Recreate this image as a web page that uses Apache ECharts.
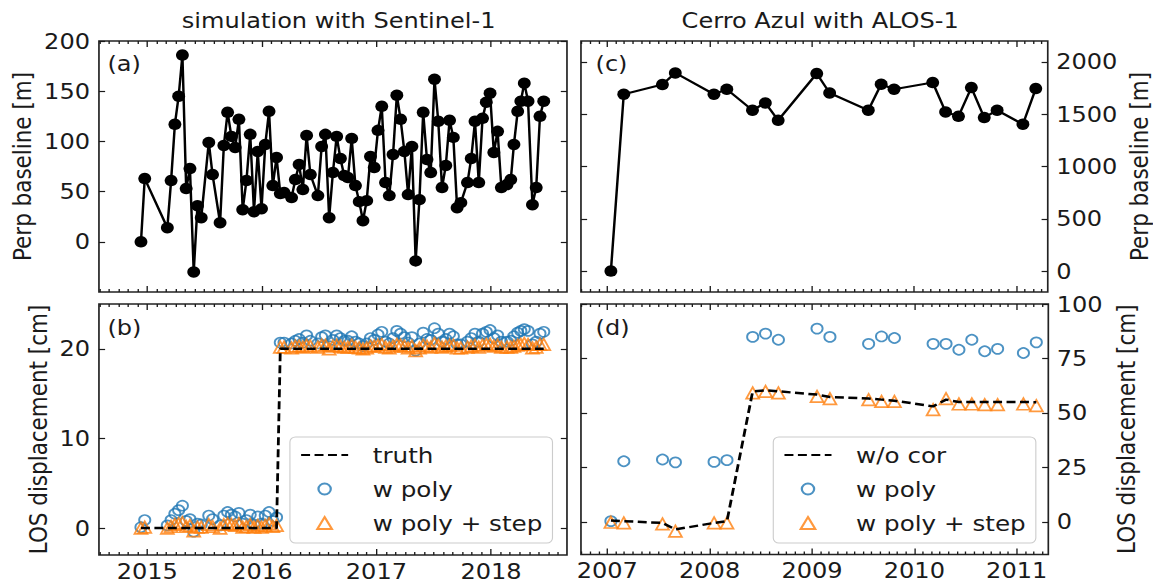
<!DOCTYPE html>
<html>
<head>
<meta charset="utf-8">
<script src="https://cdn.jsdelivr.net/npm/echarts@6/dist/echarts.min.js"></script>
<style>
  html, body { margin: 0; padding: 0; background: #fff; overflow: hidden; }
  /* the figure is laid out at 1030 px and widened to 1153 px */
  #chart { width: 1030px; height: 584px; transform: scaleX(1.1194); transform-origin: 0 0; }
</style>
</head>
<body>
<div id="chart"></div>
<script>
// ---- Sentinel-1 simulation ----
const s1Dates = [
  '2014-12-12','2014-12-24','2015-03-06','2015-03-18','2015-03-30','2015-04-11','2015-04-23','2015-05-05','2015-05-17','2015-05-29',
  '2015-06-10','2015-06-22','2015-07-16','2015-07-28','2015-08-21','2015-09-02','2015-09-14','2015-09-26','2015-10-08','2015-10-20',
  '2015-11-01','2015-11-13','2015-11-25','2015-12-07','2015-12-19','2015-12-31','2016-01-12','2016-01-24','2016-02-05','2016-02-17',
  '2016-02-29','2016-03-12','2016-04-05','2016-04-17','2016-04-29','2016-05-11','2016-05-23','2016-06-04','2016-06-28','2016-07-10',
  '2016-07-22','2016-08-03','2016-08-15','2016-08-27','2016-09-08','2016-09-20','2016-10-02','2016-10-14','2016-10-26','2016-11-07',
  '2016-11-19','2016-12-01','2016-12-13','2016-12-25','2017-01-06','2017-01-18','2017-01-30','2017-02-11','2017-02-23','2017-03-07',
  '2017-03-19','2017-03-31','2017-04-12','2017-04-24','2017-05-06','2017-05-18','2017-05-30','2017-06-11','2017-06-23','2017-07-05',
  '2017-07-17','2017-07-29','2017-08-10','2017-08-22','2017-09-03','2017-09-15','2017-09-27','2017-10-18','2017-10-30','2017-11-11',
  '2017-11-23','2017-12-05','2017-12-17','2017-12-29','2018-01-10','2018-01-22','2018-02-03','2018-02-21','2018-03-05','2018-03-15',
  '2018-03-27','2018-04-06','2018-04-17','2018-04-29','2018-05-13','2018-05-25','2018-06-06','2018-06-18'
];
const s1Baseline = [
  0, 63, 14, 61, 117, 145, 186, 53, 73, -30,
  36, 24, 99, 67, 19, 96, 129, 105, 94, 122,
  32, 61, 107, 30, 90, 33, 97, 130, 56, 84,
  48, 49, 44, 62, 77, 52, 106, 67, 46, 95,
  107, 24, 69, 105, 83, 66, 64, 103, 56, 40,
  21, 41, 85, 74, 111, 135, 59, 46, 87, 146,
  122, 90, 47, 95, -19, 42, 129, 82, 69, 162,
  120, 54, 76, 121, 104, 34, 39, 59, 83, 120,
  59, 123, 139, 148, 89, 110, 54, 57, 62, 97,
  130, 140, 158, 140, 37, 54, 125, 140
];
const s1Poly = [
  0.1, 0.9, 0.3, 0.9, 1.6, 2.0, 2.5, 0.8, 1.0, -0.4,
  0.5, 0.4, 1.4, 1.0, 0.3, 1.4, 1.8, 1.5, 1.3, 1.7,
  0.5, 0.9, 1.5, 0.4, 1.3, 0.5, 1.4, 1.8, 0.8, 1.2,
  20.7, 20.7, 20.6, 20.9, 21.1, 20.7, 21.5, 20.9, 20.6, 21.3,
  21.5, 20.3, 21.0, 21.5, 21.2, 20.9, 20.9, 21.4, 20.8, 20.6,
  20.3, 20.6, 21.2, 21.0, 21.6, 21.9, 20.8, 20.6, 21.2, 22.0,
  21.7, 21.3, 20.7, 21.3, 19.8, 20.6, 21.8, 21.1, 21.0, 22.3,
  21.7, 20.8, 21.1, 21.7, 21.4, 20.5, 20.5, 20.8, 21.2, 21.7,
  20.8, 21.7, 21.9, 22.1, 21.2, 21.5, 20.8, 20.8, 20.9, 21.4,
  21.8, 22.0, 22.2, 22.0, 20.5, 20.8, 21.7, 21.9
];
const s1PolyStep = [
  0.0, 0.1, 0.0, 0.2, 0.4, 0.5, 0.6, 0.2, 0.3, -0.3,
  0.1, 0.1, 0.4, 0.2, 0.0, 0.4, 0.5, 0.4, 0.3, 0.5,
  0.1, 0.2, 0.4, 0.1, 0.3, 0.1, 0.3, 0.5, 0.2, 0.3,
  20.2, 20.2, 20.1, 20.3, 20.3, 20.2, 20.4, 20.3, 20.2, 20.4,
  20.4, 20.0, 20.3, 20.4, 20.3, 20.2, 20.2, 20.4, 20.2, 20.1,
  20.0, 20.1, 20.3, 20.3, 20.4, 20.5, 20.2, 20.1, 20.3, 20.5,
  20.4, 20.3, 20.1, 20.3, 19.8, 20.1, 20.4, 20.3, 20.2, 20.6,
  20.4, 20.2, 20.3, 20.4, 20.4, 20.1, 20.1, 20.2, 20.3, 20.4,
  20.2, 20.4, 20.5, 20.5, 20.3, 20.4, 20.2, 20.2, 20.2, 20.3,
  20.4, 20.5, 20.6, 20.5, 20.1, 20.2, 20.5, 20.5
];
// true displacement: a 20 cm step in early 2016
const s1TruthDates = ['2014-12-12', '2016-02-17', '2016-02-29', '2018-06-18'];
const s1TruthValues = [0, 0, 20, 20];

// ---- ALOS-1 over Cerro Azul ----
const alosDates = [
  '2007-01-14','2007-03-01','2007-07-17','2007-09-01','2008-01-17','2008-03-03','2008-06-03','2008-07-19',
  '2008-09-03','2009-01-19','2009-03-06','2009-07-22','2009-09-06','2009-10-22','2010-03-09','2010-04-24',
  '2010-06-09','2010-07-25','2010-09-09','2010-10-25','2011-01-25','2011-03-12'
];
const alosBaseline = [0, 1691, 1784, 1895, 1691, 1739, 1538, 1608, 1442, 1889, 1703, 1538, 1787, 1739, 1803, 1522, 1480, 1755, 1468, 1538, 1404, 1745];
const alosNoCor = [0.6, 0.3, -0.5, -3.5, -0.5, 0.3, 59.9, 60.4, 59.9, 58.4, 57.3, 56.6, 56.1, 55.6, 53.0, 56.1, 55.0, 55.0, 55.0, 55.0, 55.0, 54.9];
const alosPoly = [0.3, 27.8, 28.6, 27.3, 27.5, 28.3, 84.9, 86.4, 83.6, 88.7, 84.9, 81.7, 85.1, 84.4, 81.7, 81.7, 79.0, 83.6, 78.3, 79.4, 77.5, 82.4];
const alosPolyStep = [-0.2, -0.5, -0.9, -4.3, -0.5, -0.5, 59.2, 59.9, 59.2, 57.6, 56.6, 56.1, 55.3, 55.3, 51.5, 56.6, 54.1, 54.1, 53.8, 53.8, 54.1, 53.3];

// ---- tick labels ----
const s1YearTicks = [2015, 2016, 2017, 2018];
const alosYearTicks = [2007, 2008, 2009, 2010, 2011];
const s1BaselineTicks = [0, 50, 100, 150, 200];
const s1LosTicks = [0, 10, 20];
const alosBaselineTicks = [0, 500, 1000, 1500, 2000];
const alosLosTicks = [0, 25, 50, 75, 100];

const FONT = "'DejaVu Sans', sans-serif";
const INK = '#1a1a1a';
const BLUE = '#1f77b4';
const ORANGE = '#ff7f0e';

// date string -> decimal year
function toYear(s) {
  const [y, m, d] = s.split('-').map(Number);
  const t0 = Date.UTC(y, 0, 1), t1 = Date.UTC(y + 1, 0, 1);
  return y + (Date.UTC(y, m - 1, d) - t0) / (t1 - t0);
}
function pairs(dates, values) {
  return dates.map((d, i) => [toYear(d), values[i]]);
}
function monthTicks(min, max) {
  const out = [];
  for (let y = Math.floor(min); y <= Math.ceil(max); y++) {
    for (let m = 1; m < 12; m++) {
      const v = y + m / 12;
      if (v > min && v < max) out.push(v);
    }
  }
  return out;
}

const S1_MIN = 2014.5785, S1_MAX = 2018.663;
const AL_MIN = 2006.743, AL_MAX = 2011.309;

// four x axes per panel: major/minor ticks on bottom and top, all pointing inward
function xAxesFor(gridIndex, min, max, years, showLabels) {
  const months = monthTicks(min, max);
  const base = {
    type: 'value', gridIndex, min, max,
    axisLine: { show: false, onZero: false }, splitLine: { show: false }
  };
  const tickStyle = { color: INK, width: 1.2 };
  const major = (position, labels) => Object.assign({}, base, {
    position,
    axisTick: { show: true, inside: true, length: 6, customValues: years, lineStyle: tickStyle },
    axisLabel: {
      show: labels, customValues: years, margin: 5,
      fontSize: 21.5, fontFamily: FONT, color: INK,
      formatter: v => String(Math.round(v))
    }
  });
  const minor = position => Object.assign({}, base, {
    position,
    axisTick: { show: true, inside: true, length: 3, customValues: months, lineStyle: tickStyle },
    axisLabel: { show: false }
  });
  return [major('bottom', showLabels), minor('bottom'), major('top', false), minor('top')];
}

// left and right y axes per panel
function yAxesFor(gridIndex, min, max, ticks, side, name, nameGap, labelMargin) {
  const mk = position => {
    const active = position === side;
    return {
      type: 'value', gridIndex, min, max, position,
      axisLine: { show: false, onZero: false }, splitLine: { show: false },
      axisTick: { show: true, inside: true, length: 5.5, customValues: ticks, lineStyle: { color: INK, width: 1.2 } },
      axisLabel: {
        show: active, customValues: ticks, margin: labelMargin,
        fontSize: 21.5, fontFamily: FONT, color: INK,
        formatter: v => String(Math.round(v))
      },
      name: active ? name : '',
      nameLocation: 'middle', nameRotate: 90, nameGap,
      nameTextStyle: { fontSize: 21.5, fontFamily: FONT, color: INK }
    };
  };
  return [mk('left'), mk('right')];
}

const gridStyle = { show: true, borderColor: '#222', borderWidth: 1.5, backgroundColor: 'transparent' };
const grids = [
  Object.assign({ left: 88.4, top: 41, width: 418.1, height: 251 }, gridStyle),
  Object.assign({ left: 88.4, top: 304, width: 418.1, height: 251 }, gridStyle),
  Object.assign({ left: 519, top: 41, width: 417.5, height: 251 }, gridStyle),
  Object.assign({ left: 519, top: 304, width: 417.5, height: 250.5 }, gridStyle)
];

const xAxes = [].concat(
  xAxesFor(0, S1_MIN, S1_MAX, s1YearTicks, false),
  xAxesFor(1, S1_MIN, S1_MAX, s1YearTicks, true),
  xAxesFor(2, AL_MIN, AL_MAX, alosYearTicks, false),
  xAxesFor(3, AL_MIN, AL_MAX, alosYearTicks, true)
);
const yAxes = [].concat(
  yAxesFor(0, -50, 200, s1BaselineTicks, 'left', 'Perp baseline [m]', 57, 8),
  yAxesFor(1, -3, 25, s1LosTicks, 'left', 'LOS displacement [cm]', 43, 8),
  yAxesFor(2, -200, 2200, alosBaselineTicks, 'right', 'Perp baseline [m]', 71, 7.5),
  yAxesFor(3, -15, 100, alosLosTicks, 'right', 'LOS displacement [cm]', 59, 7.5)
);

const baselineLine = (name, data, xi, yi) => ({
  name, type: 'line', xAxisIndex: xi, yAxisIndex: yi, data,
  symbol: 'circle', symbolSize: 11.5,
  itemStyle: { color: '#000' },
  lineStyle: { color: '#000', width: 2.2 },
  emphasis: { disabled: true }
});
const dashedLine = (name, data, xi, yi) => ({
  name, type: 'line', xAxisIndex: xi, yAxisIndex: yi, data,
  symbol: 'none',
  itemStyle: { color: '#000' },
  lineStyle: { color: '#000', width: 2.5, type: [8, 4] },
  emphasis: { disabled: true }
});
const hollow = (name, data, xi, yi, symbol, color, size) => ({
  name, type: 'scatter', xAxisIndex: xi, yAxisIndex: yi, data,
  symbol, symbolSize: size,
  itemStyle: { color: 'rgba(0,0,0,0)', borderColor: color, borderWidth: 1.7 },
  emphasis: { disabled: true }
});

const series = [
  baselineLine('baseline S1', pairs(s1Dates, s1Baseline), 0, 0),
  dashedLine('truth', pairs(s1TruthDates, s1TruthValues), 4, 2),
  hollow('w poly', pairs(s1Dates, s1Poly), 4, 2, 'circle', BLUE, 10),
  hollow('w poly + step', pairs(s1Dates, s1PolyStep), 4, 2, 'triangle', ORANGE, 11.5),
  baselineLine('baseline ALOS', pairs(alosDates, alosBaseline), 8, 5),
  dashedLine('w/o cor', pairs(alosDates, alosNoCor), 12, 7),
  hollow('w poly', pairs(alosDates, alosPoly), 12, 7, 'circle', BLUE, 10),
  hollow('w poly + step', pairs(alosDates, alosPolyStep), 12, 7, 'triangle', ORANGE, 11.5)
];

// legend keys: dashed line sample alone, marker keys kept at marker size inside the key box
const ICON_CIRCLE = 'path://M0,0 M42,13 M26.5,6.5 A5.5,5.5 0 1 1 15.5,6.5 A5.5,5.5 0 1 1 26.5,6.5 Z';
const ICON_TRIANGLE = 'path://M0,0 M42,13 M21,0.5 L27.5,12.5 L14.5,12.5 Z';
const legendBase = {
  orient: 'vertical', itemWidth: 42, itemHeight: 13, itemGap: 10,
  padding: [6, 9, 8, 9], selectedMode: false,
  backgroundColor: 'rgba(255,255,255,0.8)', borderColor: '#cccccc', borderWidth: 1, borderRadius: 5,
  textStyle: { fontSize: 22, fontFamily: FONT, color: INK, lineHeight: 24, padding: [0, 0, 0, 17] }
};
const legendItems = lineName => [
  { name: lineName, itemStyle: { opacity: 0 } },
  { name: 'w poly', icon: ICON_CIRCLE },
  { name: 'w poly + step', icon: ICON_TRIANGLE }
];
const legends = [
  Object.assign({ data: legendItems('truth'), left: 259, top: 437 }, legendBase),
  Object.assign({ data: legendItems('w/o cor'), left: 690.8, top: 437 }, legendBase)
];

const panelTag = (text, left, top) => ({
  type: 'text', left, top,
  style: { text, fontSize: 21.5, fontFamily: FONT, fill: INK }
});

const chart = echarts.init(document.getElementById('chart'), null, { renderer: 'svg' });
chart.setOption({
  animation: false,
  backgroundColor: '#fff',
  title: [
    { text: 'simulation with Sentinel-1', left: 297.5, top: 4, textAlign: 'center',
      textStyle: { fontSize: 21.5, fontWeight: 'normal', fontFamily: FONT, color: INK } },
    { text: 'Cerro Azul with ALOS-1', left: 727.7, top: 4, textAlign: 'center',
      textStyle: { fontSize: 21.5, fontWeight: 'normal', fontFamily: FONT, color: INK } }
  ],
  grid: grids,
  xAxis: xAxes,
  yAxis: yAxes,
  legend: legends,
  series,
  graphic: [
    panelTag('(a)', 96, 52),
    panelTag('(b)', 96, 316),
    panelTag('(c)', 532, 52),
    panelTag('(d)', 532, 316)
  ]
});
</script>
</body>
</html>
